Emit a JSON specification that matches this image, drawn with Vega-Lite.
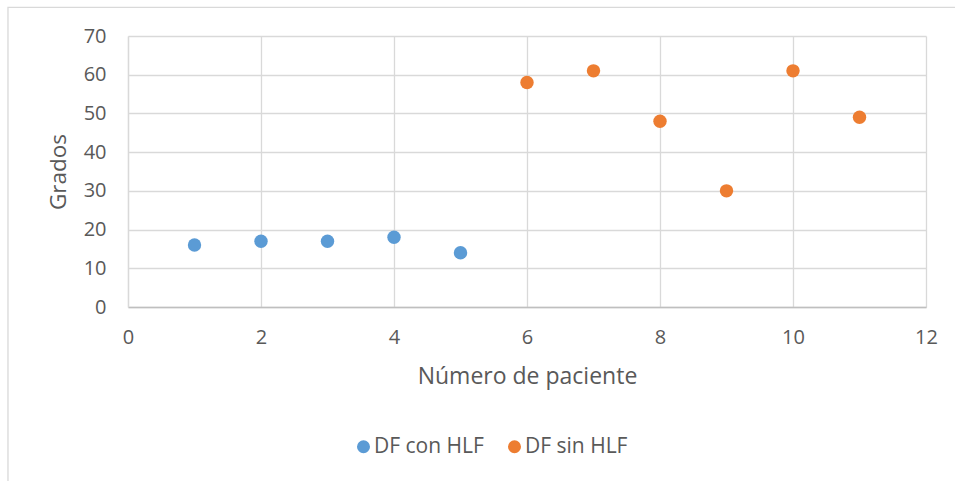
{
  "$schema": "https://vega.github.io/schema/vega-lite/v6.json",
  "width": 798,
  "height": 271,
  "autosize": "none",
  "padding": {"left": 128, "top": 36, "right": 29, "bottom": 174},
  "background": "white",
  "config": {
    "font": "Open Sans",
    "view": {"stroke": null},
    "axis": {
      "labelColor": "#595959",
      "titleColor": "#595959",
      "labelFont": "Open Sans",
      "titleFont": "Open Sans",
      "titleFontWeight": "normal",
      "gridColor": "#D9D9D9",
      "gridWidth": 1.3,
      "domainColor": "#BFBFBF",
      "domainWidth": 1.3,
      "ticks": false,
      "labelOverlap": false,
      "labelFlush": false,
      "labelBound": false,
      "format": "d"
    }
  },
  "datasets": {
    "pacientes": [
      {"paciente": 1, "grados": 16, "grupo": "DF con HLF"},
      {"paciente": 2, "grados": 17, "grupo": "DF con HLF"},
      {"paciente": 3, "grados": 17, "grupo": "DF con HLF"},
      {"paciente": 4, "grados": 18, "grupo": "DF con HLF"},
      {"paciente": 5, "grados": 14, "grupo": "DF con HLF"},
      {"paciente": 6, "grados": 58, "grupo": "DF sin HLF"},
      {"paciente": 7, "grados": 61, "grupo": "DF sin HLF"},
      {"paciente": 8, "grados": 48, "grupo": "DF sin HLF"},
      {"paciente": 9, "grados": 30, "grupo": "DF sin HLF"},
      {"paciente": 10, "grados": 61, "grupo": "DF sin HLF"},
      {"paciente": 11, "grados": 49, "grupo": "DF sin HLF"}
    ],
    "marco": [
      {"x0": -1.805, "x1": 14, "y0": -60, "y1": 77.4}
    ]
  },
  "layer": [
    {
      "data": {"name": "pacientes"},
      "mark": {"type": "circle", "size": 180, "opacity": 1},
      "encoding": {
        "x": {
          "field": "paciente",
          "type": "quantitative",
          "title": "Número de paciente",
          "scale": {"domain": [0, 12], "nice": false, "zero": false},
          "axis": {
            "values": [0, 2, 4, 6, 8, 10, 12],
            "labelFontSize": 20,
            "labelPadding": 20,
            "titleFontSize": 23,
            "titlePadding": 18
          }
        },
        "y": {
          "field": "grados",
          "type": "quantitative",
          "title": "Grados",
          "scale": {"domain": [0, 70], "nice": false, "zero": false},
          "axis": {
            "values": [0, 10, 20, 30, 40, 50, 60, 70],
            "labelFontSize": 20,
            "labelPadding": 22,
            "titleFontSize": 22.5,
            "titlePadding": 13,
            "domainColor": "#D9D9D9"
          }
        },
        "color": {
          "field": "grupo",
          "type": "nominal",
          "scale": {"domain": ["DF con HLF", "DF sin HLF"], "range": ["#5B9BD5", "#ED7D31"]},
          "legend": {
            "title": null,
            "orient": "none",
            "direction": "horizontal",
            "legendX": 225,
            "legendY": 400,
            "symbolType": "circle",
            "symbolSize": 170,
            "symbolOpacity": 1,
            "labelFontSize": 21,
            "labelColor": "#595959",
            "labelFont": "Open Sans",
            "labelOffset": 0,
            "columnPadding": 20
          }
        }
      }
    },
    {
      "data": {"name": "marco"},
      "mark": {"type": "rect", "fill": null, "stroke": "#D9D9D9", "strokeWidth": 1.3, "clip": false},
      "encoding": {
        "x": {
          "field": "x0",
          "type": "quantitative",
          "title": "Número de paciente",
          "axis": {
            "values": [0, 2, 4, 6, 8, 10, 12],
            "labelFontSize": 20,
            "labelPadding": 20,
            "titleFontSize": 23,
            "titlePadding": 18
          }
        },
        "x2": {"field": "x1"},
        "y": {
          "field": "y0",
          "type": "quantitative",
          "title": "Grados",
          "axis": {
            "values": [0, 10, 20, 30, 40, 50, 60, 70],
            "labelFontSize": 20,
            "labelPadding": 22,
            "titleFontSize": 22.5,
            "titlePadding": 13,
            "domainColor": "#D9D9D9"
          }
        },
        "y2": {"field": "y1"}
      }
    }
  ]
}
